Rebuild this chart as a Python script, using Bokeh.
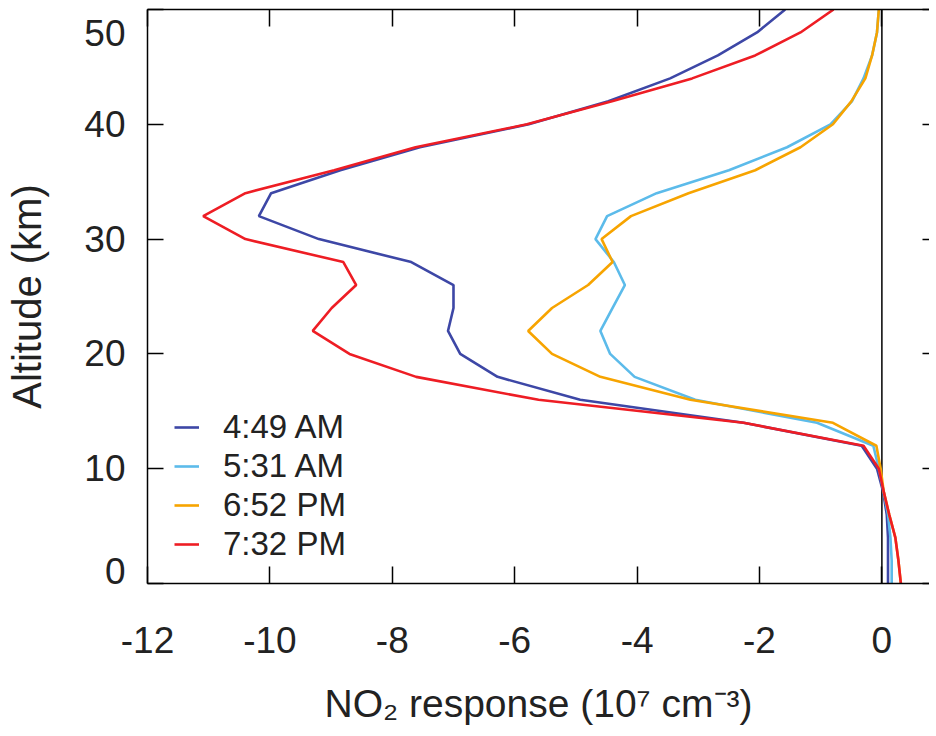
from bokeh.plotting import figure
from bokeh.models import Range1d, LinearAxis, FixedTicker, Legend, LegendItem, Span
from bokeh.embed import file_html
from bokeh.resources import INLINE

# Altitude levels (km)
altitude = [0, 2, 4, 6, 8, 10, 12, 14, 16, 18, 20, 22, 24, 26, 28, 30,
            32, 34, 36, 38, 40, 42, 44, 46, 48, 50]

# NO2 response (1e7 cm^-3) for each time
no2_0449am = [0.10, 0.10, 0.10, 0.08, 0.02, -0.08, -0.33, -2.26, -4.93, -6.28,
              -6.89, -7.09, -7.00, -7.00, -7.69, -9.20, -10.18, -9.98, -8.85,
              -7.55, -5.77, -4.47, -3.46, -2.68, -2.04, -1.58]
no2_0531am = [0.16, 0.16, 0.14, 0.10, 0.03, -0.05, -0.14, -1.06, -3.05, -4.04,
              -4.44, -4.60, -4.40, -4.20, -4.38, -4.68, -4.49, -3.68, -2.50,
              -1.55, -0.84, -0.49, -0.30, -0.16, -0.08, -0.05]
no2_0652pm = [0.31, 0.27, 0.22, 0.12, 0.03, -0.02, -0.09, -0.80, -3.13, -4.60,
              -5.39, -5.78, -5.39, -4.80, -4.40, -4.58, -4.10, -3.16, -2.07,
              -1.33, -0.80, -0.50, -0.27, -0.16, -0.08, -0.05]
no2_0732pm = [0.31, 0.27, 0.22, 0.12, 0.03, -0.05, -0.30, -2.26, -5.61, -7.61,
              -8.70, -9.30, -8.99, -8.59, -8.80, -10.40, -11.09, -10.40, -8.95,
              -7.62, -5.80, -4.41, -3.10, -2.07, -1.33, -0.79]

series_labels = ["4:49 AM", "5:31 AM", "6:52 PM", "7:32 PM"]
series_values = [no2_0449am, no2_0531am, no2_0652pm, no2_0732pm]
colors = ["#3d47a6", "#5cbbea", "#f7a400", "#ee1d24"]

x_ticks = [-12, -10, -8, -6, -4, -2, 0]
x_tick_labels = ["-12", "-10", "-8", "-6", "-4", "-2", "0"]
y_ticks = [0, 10, 20, 30, 40, 50]
y_tick_labels = ["0\n \n ", "10", "20", "30", "40", " \n50"]

FONT = "Liberation Sans"
TXT = "#222222"

p = figure(frame_width=782, frame_height=574,
           x_range=Range1d(-12, 0.778), y_range=Range1d(0, 50),
           output_backend="svg", toolbar_location=None,
           min_border_left=147, min_border_top=9, min_border_right=0,
           min_border_bottom=128)
p.grid.visible = False
p.outline_line_color = None
p.background_fill_color = "white"

# zero reference line
p.add_layout(Span(location=0, dimension="height", line_color="black",
                  line_width=1.5, level="underlay"))

items = []
for lab, vals, col in zip(series_labels, series_values, colors):
    r = p.line(x=vals, y=altitude, line_color=col, line_width=2.6)
    items.append(LegendItem(label=lab, renderers=[r]))

legend = Legend(items=items, location=(27, 20), glyph_width=25, glyph_height=30,
                label_height=30, label_standoff=24, spacing=1, padding=0, margin=0,
                border_line_color=None, background_fill_alpha=0,
                label_text_font_size="33px", label_text_font=FONT,
                label_text_color=TXT)
p.add_layout(legend)

def style(ax, ticks, tick_len):
    ax.ticker = FixedTicker(ticks=ticks)
    ax.major_tick_in = tick_len
    ax.major_tick_out = 0
    ax.minor_tick_line_color = None
    ax.axis_line_color = "black"
    ax.axis_line_width = 1.5
    ax.major_tick_line_color = "black"
    ax.major_tick_line_width = 1.5
    ax.major_label_text_font = FONT
    ax.major_label_text_color = TXT
    ax.axis_label_text_font = FONT
    ax.axis_label_text_font_style = "normal"
    ax.axis_label_text_color = TXT

xb = p.xaxis[0]
style(xb, x_ticks, 17)
xb.major_label_overrides = dict(zip(x_ticks, x_tick_labels))
xb.major_label_text_font_size = "37px"
xb.major_label_standoff = 43
xb.axis_label = "NO\u2082 response (10\u2077 cm\u207b\u00b3)"
xb.axis_label_text_font_size = "39px"
xb.axis_label_standoff = 26

yl = p.yaxis[0]
style(yl, y_ticks, 16)
yl.major_label_overrides = dict(zip(y_ticks, y_tick_labels))
yl.major_label_text_font_size = "37px"
yl.major_label_text_line_height = 0.3
yl.major_label_standoff = 22
yl.axis_label = "Altitude (km)"
yl.axis_label_text_font_size = "40px"
yl.axis_label_standoff = 32

xt = LinearAxis()
style(xt, x_ticks, 17)
xt.major_label_overrides = {t: "" for t in x_ticks}
xt.major_label_text_font_size = "1px"
xt.major_label_standoff = 0
p.add_layout(xt, "above")

yr = LinearAxis()
style(yr, y_ticks, 7)
yr.axis_line_color = None
yr.major_label_overrides = {t: "" for t in y_ticks}
yr.major_label_text_font_size = "1px"
yr.major_label_standoff = 0
p.add_layout(yr, "right")

open("out.html", "w").write(file_html(p, INLINE))
